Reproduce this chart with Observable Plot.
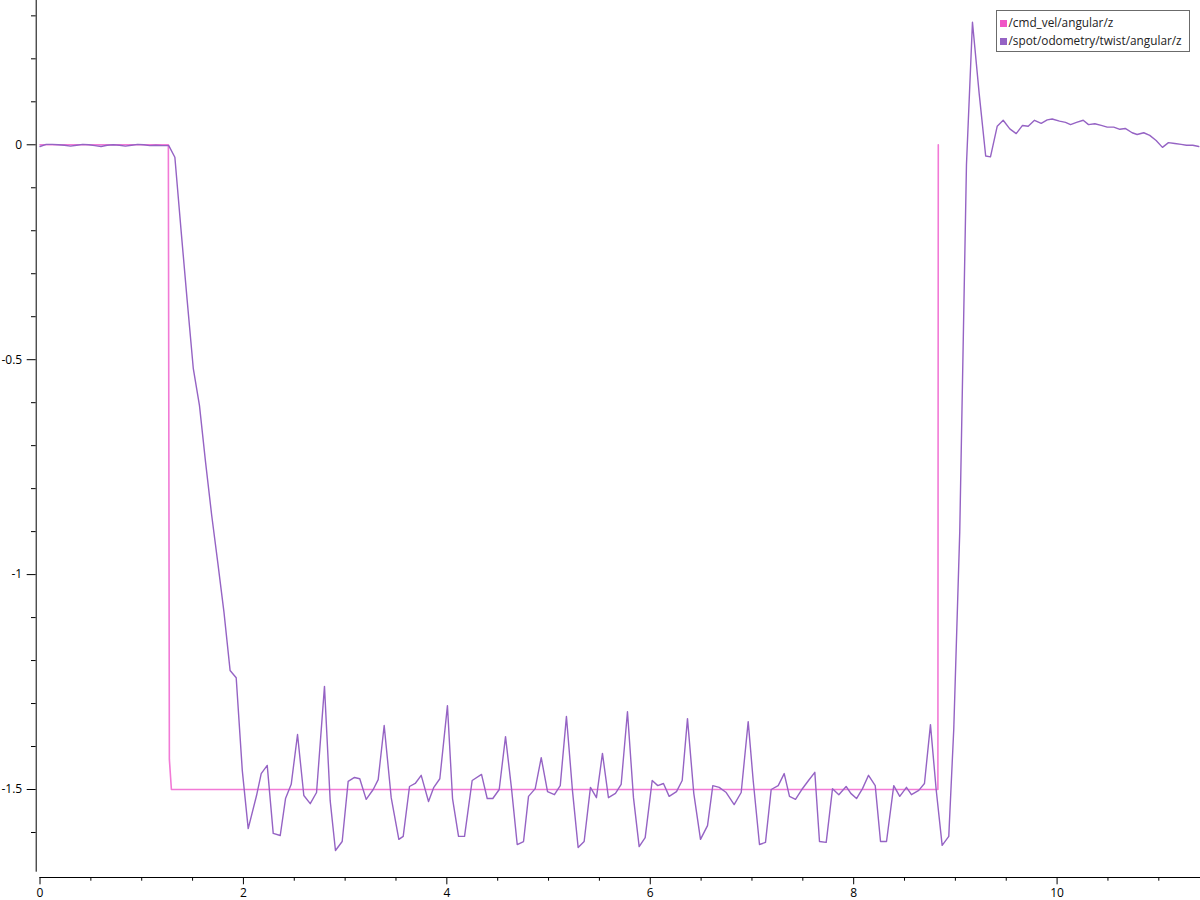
<!DOCTYPE html>
<html>
<head>
<meta charset="utf-8">
<script src="https://cdn.jsdelivr.net/npm/d3@7"></script>
<script src="https://cdn.jsdelivr.net/npm/@observablehq/plot@0.6"></script>
<style>
  html, body { margin: 0; padding: 0; background: #fff; }
  #wrap { position: relative; width: 1200px; height: 900px; }
  #legend {
    position: absolute; left: 996px; top: 10px; width: 192px; height: 40px;
    border: 1.5px solid #6b6b6b; background: #fff;
    font-family: "Open Sans", sans-serif; font-size: 11.8px; color: #222;
    padding: 0; box-sizing: content-box;
  }
  #legend .row { position: absolute; left: 3px; height: 14px; line-height: 14px; white-space: nowrap; }
  #legend .sw { display: inline-block; width: 7px; height: 7px; margin-right: 1.5px; vertical-align: 0px; }
</style>
</head>
<body>
<div id="wrap">
  <div id="chart"></div>
  <div id="legend"></div>
</div>
<script>
// ---- series names & colours ----
const seriesNames = ["/cmd_vel/angular/z", "/spot/odometry/twist/angular/z"];
const seriesColors = ["#f055c6", "#9563c4"];
const lineColors = ["#f27ad6", "#9563c4"];

// ---- /cmd_vel/angular/z ----
const cmdT = [0, 0.30, 0.60, 0.90, 1.20, 1.262, 1.272, 1.292, 2.0, 4.0, 6.0, 8.0, 8.828, 8.832];
const cmdV = [0, 0, 0, 0, 0, 0, -1.43, -1.5, -1.5, -1.5, -1.5, -1.5, -1.5, 0];

// ---- /spot/odometry/twist/angular/z ----
const odomT = [
  0, 0.06, 0.12, 0.18, 0.24, 0.30, 0.36, 0.42, 0.48, 0.54, 0.60, 0.66, 0.72, 0.78, 0.84, 0.90, 0.96, 1.02, 1.08, 1.14, 1.20,
  1.266, 1.326, 1.387, 1.447, 1.507, 1.568, 1.628, 1.688, 1.748, 1.809, 1.869, 1.929, 1.989, 2.047,
  2.129, 2.175, 2.234, 2.293, 2.362, 2.414, 2.470, 2.532, 2.594, 2.657, 2.719, 2.797, 2.853, 2.905, 2.971,
  3.030, 3.092, 3.144, 3.207, 3.276, 3.325, 3.384, 3.453, 3.528, 3.571, 3.633, 3.689, 3.748, 3.820, 3.872, 3.931,
  4.006, 4.056, 4.115, 4.174, 4.249, 4.341, 4.397, 4.452, 4.515, 4.577, 4.636, 4.692, 4.754, 4.803, 4.869, 4.928, 4.990,
  5.058, 5.115, 5.176, 5.235, 5.291, 5.350, 5.412, 5.471, 5.530, 5.589, 5.658, 5.714, 5.776, 5.835, 5.891, 5.950,
  6.019, 6.074, 6.130, 6.186, 6.258, 6.314, 6.366, 6.428, 6.494, 6.563, 6.615, 6.678, 6.747, 6.825, 6.894, 6.963,
  7.012, 7.074, 7.133, 7.189, 7.258, 7.317, 7.369, 7.428, 7.490, 7.556, 7.618, 7.664, 7.730, 7.792, 7.854, 7.926, 7.972,
  8.028, 8.087, 8.146, 8.212, 8.264, 8.323, 8.394, 8.453, 8.519, 8.568, 8.640, 8.696, 8.755, 8.811, 8.870, 8.935, 8.984,
  9.043, 9.109, 9.168, 9.234, 9.298, 9.345, 9.411, 9.470, 9.535, 9.598, 9.660, 9.716, 9.778, 9.844, 9.903, 9.952,
  10.024, 10.083, 10.132, 10.191, 10.257, 10.309, 10.371, 10.434, 10.493, 10.557, 10.617, 10.670, 10.738, 10.787, 10.852, 10.911, 10.974,
  11.036, 11.095, 11.157, 11.220, 11.272, 11.334, 11.393
];
const odomV = [
  -0.004, 0.001, 0.001, 0.0, -0.001, -0.003, -0.001, 0.001, 0.0, -0.002, -0.004, -0.001, 0.0, -0.001, -0.003, -0.001, 0.001, 0.0, -0.002, -0.001, -0.002,
  -0.002, -0.029, -0.199, -0.362, -0.520, -0.607, -0.739, -0.862, -0.972, -1.088, -1.223, -1.240, -1.456, -1.591,
  -1.514, -1.463, -1.444, -1.602, -1.607, -1.521, -1.488, -1.372, -1.514, -1.533, -1.507, -1.260, -1.526, -1.642, -1.621,
  -1.481, -1.472, -1.475, -1.523, -1.500, -1.477, -1.351, -1.519, -1.616, -1.609, -1.493, -1.486, -1.467, -1.528, -1.495, -1.475,
  -1.305, -1.521, -1.609, -1.609, -1.479, -1.465, -1.521, -1.521, -1.500, -1.377, -1.498, -1.628, -1.621, -1.516, -1.498, -1.426, -1.505,
  -1.512, -1.491, -1.330, -1.502, -1.635, -1.621, -1.495, -1.519, -1.416, -1.519, -1.509, -1.488, -1.319, -1.519, -1.633, -1.612,
  -1.479, -1.491, -1.486, -1.516, -1.505, -1.479, -1.335, -1.509, -1.616, -1.584, -1.491, -1.495, -1.507, -1.535, -1.507, -1.342,
  -1.479, -1.628, -1.623, -1.500, -1.491, -1.463, -1.516, -1.523, -1.500, -1.479, -1.460, -1.621, -1.623, -1.498, -1.512, -1.493, -1.509,
  -1.521, -1.498, -1.467, -1.491, -1.621, -1.621, -1.491, -1.516, -1.495, -1.512, -1.502, -1.486, -1.349, -1.500, -1.630, -1.609, -1.360,
  -0.900, -0.046, 0.285, 0.119, -0.026, -0.028, 0.043, 0.057, 0.037, 0.026, 0.045, 0.043, 0.057, 0.050, 0.058, 0.060,
  0.055, 0.052, 0.047, 0.052, 0.057, 0.047, 0.049, 0.045, 0.041, 0.041, 0.036, 0.038, 0.028, 0.024, 0.028, 0.022, 0.010,
  -0.006, 0.005, 0.003, 0.001, -0.001, -0.001, -0.004
];

// ---- axes: domains & ticks ----
const xDomain = [0, 11.41];
const yDomain = [-1.6924, 0.3357];
const xMajorTicks = [0, 2, 4, 6, 8, 10];
const xMinorTicks = [0.5, 1, 1.5, 2.5, 3, 3.5, 4.5, 5, 5.5, 6.5, 7, 7.5, 8.5, 9, 9.5, 10.5, 11];
const yMajorTicks = [0, -0.5, -1, -1.5];
const yMinorTicks = [0.3, 0.2, 0.1, -0.1, -0.2, -0.3, -0.4, -0.6, -0.7, -0.8, -0.9, -1.1, -1.2, -1.3, -1.4, -1.6];

const cmdData = cmdT.map((t, i) => ({t, v: cmdV[i]}));
const odomData = odomT.map((t, i) => ({t, v: odomV[i]}));

const chart = Plot.plot({
  width: 1200,
  height: 900,
  marginLeft: 39.5,
  marginRight: 0,
  marginTop: 0,
  marginBottom: 28.3,
  style: {fontFamily: "Open Sans, sans-serif", fontSize: "12px", color: "#000", background: "#fff", overflow: "visible"},
  x: {domain: xDomain, label: null},
  y: {domain: yDomain, label: null},
  marks: [
    Plot.ruleX([xDomain[0]], {dx: -3.8, stroke: "#000"}),
    Plot.ruleY([yDomain[0]], {dy: 5.3, stroke: "#000"}),
    Plot.axisY(yMajorTicks, {tickSize: 9, tickPadding: 5, dx: -3.8, tickFormat: d => String(d), label: null}),
    Plot.axisY(yMinorTicks, {tickSize: 4.7, dx: -3.8, tickFormat: () => "", label: null}),
    Plot.axisX(xMajorTicks, {tickSize: 7.3, tickPadding: 3.5, dy: 5.3, tickFormat: d => String(d), label: null}),
    Plot.axisX(xMinorTicks, {tickSize: 3.7, dy: 5.3, tickFormat: () => "", label: null}),
    Plot.line(cmdData, {x: "t", y: "v", stroke: lineColors[0], strokeWidth: 1.6}),
    Plot.line(odomData, {x: "t", y: "v", stroke: lineColors[1], strokeWidth: 1.4})
  ]
});
document.getElementById("chart").appendChild(chart);

const legend = document.getElementById("legend");
seriesNames.forEach((name, i) => {
  const row = document.createElement("div");
  row.className = "row";
  row.style.top = (4 + i * 18) + "px";
  const sw = document.createElement("span");
  sw.className = "sw";
  sw.style.background = seriesColors[i];
  row.appendChild(sw);
  row.appendChild(document.createTextNode(name));
  legend.appendChild(row);
});
</script>
</body>
</html>
